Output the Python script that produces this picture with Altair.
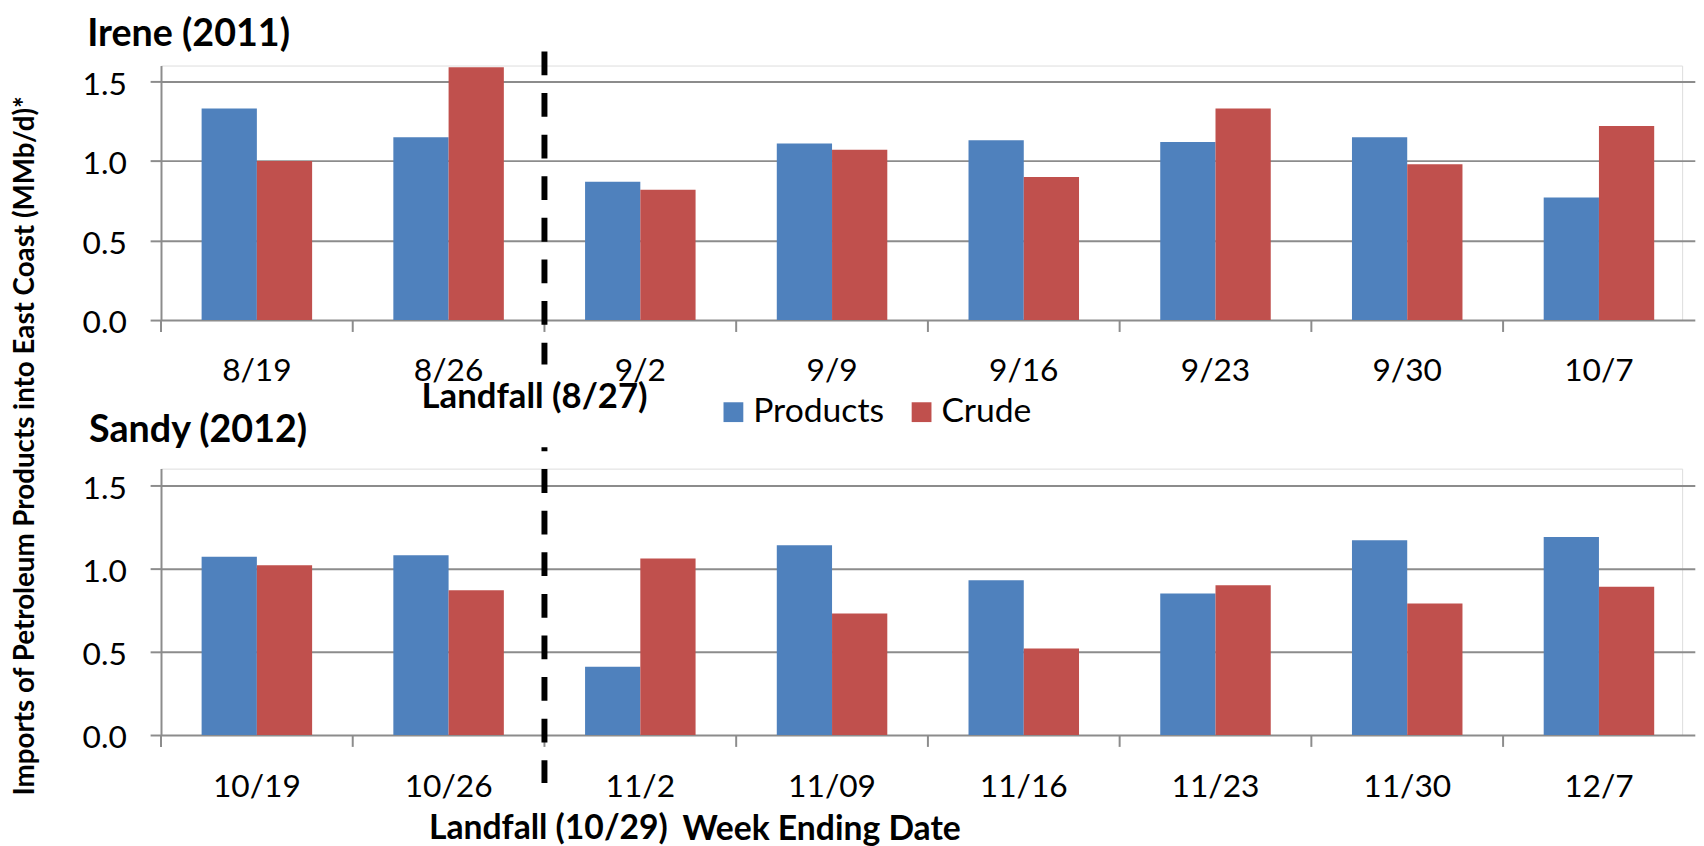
import altair as alt
import pandas as pd

# ---------------- data ----------------
series = ["Products", "Crude"]
series_colors = ["#4F81BD", "#C0504D"]

irene_weeks = ["8/19", "8/26", "9/2", "9/9", "9/16", "9/23", "9/30", "10/7"]
irene_products = [1.33, 1.15, 0.87, 1.11, 1.13, 1.12, 1.15, 0.77]
irene_crude = [1.00, 1.59, 0.82, 1.07, 0.90, 1.33, 0.98, 1.22]

sandy_weeks = ["10/19", "10/26", "11/2", "11/09", "11/16", "11/23", "11/30", "12/7"]
sandy_products = [1.07, 1.08, 0.41, 1.14, 0.93, 0.85, 1.17, 1.19]
sandy_crude = [1.02, 0.87, 1.06, 0.73, 0.52, 0.90, 0.79, 0.89]

panel_titles = ["Irene (2011)", "Sandy (2012)"]
landfall_weeks = ["9/2", "11/2"]          # first week after landfall
landfall_labels = ["Landfall (8/27)", "Landfall (10/29)"]
y_title = "Imports of Petroleum Products into East Coast (MMb/d)*"
x_title = "Week Ending Date"
y_ticks = [0.0, 0.5, 1.0, 1.5]

# ---------------- style ----------------
FONT = "Lato"
W = 1536
STEP = 193.6
GRID = "#8c8c8c"
H_TOP = 257
H_BOT = 269


def panel(weeks, prod, crude, title, lf_week, lf_label, H, cfg, legend, bottom):
    df = pd.DataFrame({
        "week": weeks + weeks,
        "series": ["Products"] * len(weeks) + ["Crude"] * len(weeks),
        "value": prod + crude,
    })
    xscale = alt.Scale(domain=weeks, range=[0, STEP * len(weeks)],
                       paddingInner=0, paddingOuter=0)

    xaxis_kw = dict(labelAngle=0, ticks=False, tickSize=0, domain=False, grid=False,
                    labelFont=FONT, labelFontSize=32, labelColor="black",
                    labelBaseline="alphabetic", labelPadding=cfg["xlabpad"])
    if bottom:
        xaxis_kw.update(titleX=cfg["xtx"], titleY=cfg["xty"], titleAlign="left",
                        titleBaseline="alphabetic", titleFont=FONT, titleFontSize=34,
                        titleFontWeight="bold", titleColor="black")
    x = alt.X("week:N", sort=weeks, scale=xscale, axis=alt.Axis(**xaxis_kw),
              title=x_title if bottom else None)

    yaxis_kw = dict(values=y_ticks, format=".1f", grid=True, gridColor=GRID, gridWidth=2,
                    domainColor=GRID, domainWidth=2, tickColor=GRID, tickWidth=2,
                    tickSize=11, labelFont=FONT, labelFontSize=32, labelColor="black",
                    labelPadding=24, labelOffset=3)
    if bottom:
        yaxis_kw.update(titleX=cfg["ytx"], titleY=cfg["yty"], titleAngle=270,
                        titleAlign="center", titleBaseline="middle", titleFont=FONT,
                        titleFontSize=28, titleFontWeight="bold", titleColor="black")
    y = alt.Y("value:Q", scale=alt.Scale(domain=[0, 1.6], nice=False),
              axis=alt.Axis(**yaxis_kw), title=y_title if bottom else None)

    if legend:
        leg = alt.Legend(title=None, orient="none", legendX=cfg["legx"], legendY=cfg["legy"],
                         direction="horizontal", symbolType="square", symbolSize=400,
                         symbolStrokeWidth=0, labelFont=FONT, labelFontSize=34,
                         labelColor="black", labelOffset=3, columnPadding=cfg["legcol"],
                         padding=0)
    else:
        leg = None
    color = alt.Color("series:N", sort=series,
                      scale=alt.Scale(domain=series, range=series_colors), legend=leg)

    bars = alt.Chart(df).mark_bar().encode(
        x=x, y=y, color=color,
        xOffset=alt.XOffset("series:N", sort=series,
                            scale=alt.Scale(domain=series, paddingInner=0, paddingOuter=0.735)),
    )

    tdf = pd.DataFrame({"week": weeks})
    ticks = alt.Chart(tdf).mark_rule(color=GRID, strokeWidth=2).encode(
        x=alt.X("week:N", sort=weeks, bandPosition=0),
        y=alt.value(H), y2=alt.value(H + 12),
    )

    ldf = pd.DataFrame({"week": [lf_week], "label": [lf_label]})
    dash = alt.Chart(ldf).mark_rule(color="black", strokeWidth=6, strokeDash=[24, 18],
                                    strokeDashOffset=cfg["dashoff"]).encode(
        x=alt.X("week:N", sort=weeks, bandPosition=0),
        y=alt.value(cfg["dash_y1"]), y2=alt.value(cfg["dash_y2"]),
    )
    lftext = alt.Chart(ldf).mark_text(font=FONT, fontSize=cfg["lffs"], fontWeight="bold",
                                      align="center", baseline="alphabetic",
                                      dx=cfg["lfdx"], color="black").encode(
        x=alt.X("week:N", sort=weeks, bandPosition=0),
        y=alt.value(cfg["lfy"]), text="label:N",
    )

    ptdf = pd.DataFrame({"t": [title]})
    ptitle = alt.Chart(ptdf).mark_text(font=FONT, fontSize=38, fontWeight="bold",
                                       align="left", baseline="alphabetic",
                                       color="black").encode(
        x=alt.value(cfg["tx"]), y=alt.value(cfg["ty"]), text="t:N",
    )

    return alt.layer(bars, ticks, dash, lftext, ptitle).properties(width=W, height=H)


top_cfg = dict(xlabpad=61.5, legx=561, legy=333, legcol=20, dashoff=0,
               dash_y1=-14.2, dash_y2=301.8, lffs=35, lfdx=-10, lfy=345.8,
               tx=-74.6, ty=-20.2)
bot_cfg = dict(xlabpad=62.5, dashoff=20, dash_y1=-21.5, dash_y2=317.5,
               lffs=34, lfdx=4, lfy=374.5, tx=-72.6, ty=-26.5,
               xtx=526, xty=105.5, ytx=-137.1, yty=-23.5)

top = panel(irene_weeks, irene_products, irene_crude, panel_titles[0],
            landfall_weeks[0], landfall_labels[0], H_TOP, top_cfg, True, False)
bot = panel(sandy_weeks, sandy_products, sandy_crude, panel_titles[1],
            landfall_weeks[1], landfall_labels[1], H_BOT, bot_cfg, False, True)

chart = alt.vconcat(top, bot, spacing=150, bounds="flush").resolve_legend(
    color="independent"
).properties(
    padding={"left": 2.5, "top": 3, "right": 0, "bottom": 0}
).configure_view(stroke=None).configure(font=FONT)

chart.save("out.html", embed_options={"renderer": "svg", "actions": False})
